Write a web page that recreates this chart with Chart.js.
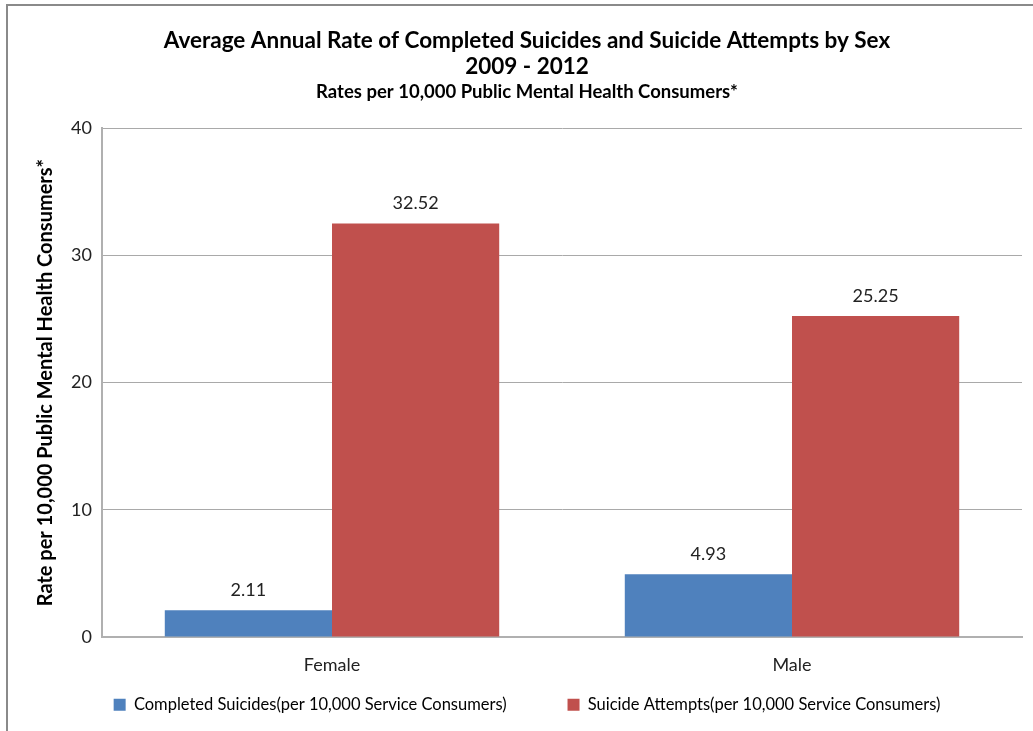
<!DOCTYPE html>
<html>
<head>
<meta charset="utf-8">
<script src="https://cdn.jsdelivr.net/npm/chart.js@4/dist/chart.umd.min.js"></script>
<style>
  html, body { margin: 0; padding: 0; background: #fff; overflow: hidden; }
  #wrap { position: relative; width: 1033px; height: 731px; }
  #frame { position: absolute; left: 6px; top: 4px; width: 1100px; height: 800px;
           border-left: 2px solid #8a8a8a; border-top: 2px solid #8a8a8a; pointer-events: none; }
</style>
</head>
<body>
<div id="wrap">
  <canvas id="c" width="1033" height="731"></canvas>
  <div id="frame"></div>
</div>
<script>
const categories = ['Female', 'Male'];
const completedSuicides = [2.11, 4.93];
const suicideAttempts = [32.52, 25.25];
const seriesNames = ['Completed Suicides(per 10,000 Service Consumers)', 'Suicide Attempts(per 10,000 Service Consumers)'];
const yTicks = [0, 10, 20, 30, 40];

const FONT = 'Lato, "Open Sans", sans-serif';

const valueLabels = {
  id: 'valueLabels',
  afterDatasetsDraw(chart) {
    const ctx = chart.ctx;
    ctx.save();
    ctx.font = '18px ' + FONT;
    ctx.fillStyle = '#222';
    ctx.textAlign = 'center';
    ctx.textBaseline = 'middle';
    chart.data.datasets.forEach((ds, i) => {
      chart.getDatasetMeta(i).data.forEach((el, j) => {
        ctx.fillText(ds.data[j].toFixed(2), el.x, el.y - 20);
      });
    });
    ctx.restore();
  }
};

new Chart(document.getElementById('c'), {
  type: 'bar',
  data: {
    labels: categories,
    datasets: [
      { label: seriesNames[0], data: completedSuicides, backgroundColor: '#4F81BD', borderWidth: 0 },
      { label: seriesNames[1], data: suicideAttempts, backgroundColor: '#C0504D', borderWidth: 0 }
    ]
  },
  options: {
    responsive: false,
    animation: false,
    devicePixelRatio: 1,
    layout: { padding: { left: 32, right: 11, top: 0, bottom: 8 } },
    datasets: { bar: { barPercentage: 1.0, categoryPercentage: 0.727 } },
    plugins: {
      title: {
        display: true,
        text: ['Average Annual Rate of Completed Suicides and Suicide Attempts by Sex', '2009 - 2012'],
        font: { family: FONT, size: 22.5, weight: 'bold', lineHeight: 1.18 },
        color: '#000',
        padding: { top: 27, bottom: 1 }
      },
      subtitle: {
        display: true,
        text: 'Rates per 10,000 Public Mental Health Consumers*',
        font: { family: FONT, size: 18.5, weight: 'bold', lineHeight: 1.2 },
        color: '#000',
        padding: { top: 0, bottom: 25 }
      },
      legend: {
        position: 'bottom',
        labels: {
          font: { family: FONT, size: 16.5 },
          color: '#000',
          boxWidth: 12,
          boxHeight: 12,
          padding: 15.5,
          generateLabels(chart) {
            const items = Chart.defaults.plugins.legend.labels.generateLabels(chart);
            items.forEach((it, i) => { if (i < items.length - 1) it.text += '\u2003\u2003\u2003\u2002'; });
            return items;
          }
        }
      },
      tooltip: { enabled: false }
    },
    scales: {
      x: {
        grid: { display: false, drawTicks: false },
        border: { display: true, color: '#b0b0b0', width: 2 },
        ticks: { font: { family: FONT, size: 18 }, color: '#222', padding: 17 },
        afterFit(scale) { scale.height = 44; }
      },
      y: {
        min: 0, max: 40,
        afterBuildTicks(scale) { scale.ticks = yTicks.map(v => ({ value: v })); },
        grid: { color: '#a9a9a9', lineWidth: 1, drawTicks: false },
        border: { display: true, color: '#b0b0b0', width: 2 },
        ticks: { font: { family: FONT, size: 18 }, color: '#222', padding: 10 },
        title: {
          display: true,
          text: 'Rate per 10,000 Public Mental Health Consumers*',
          font: { family: FONT, size: 20, weight: 'bold' },
          color: '#000',
          padding: { top: 2, bottom: 0 }
        },
        afterFit(scale) { scale.width = 70; }
      }
    }
  },
  plugins: [valueLabels]
});
</script>
</body>
</html>
